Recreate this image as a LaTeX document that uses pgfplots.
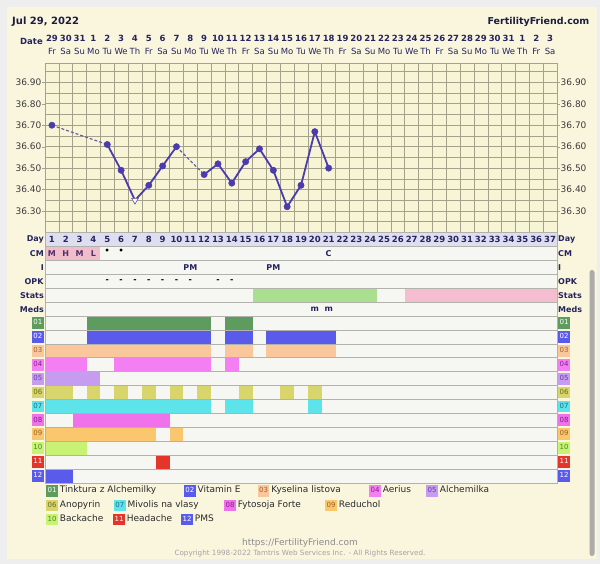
\documentclass[border=0pt]{standalone}
\usepackage{pgfplots}
\pgfplotsset{compat=1.18}
\usepackage{fontspec}
\setmainfont{DejaVu Sans}

\definecolor{outerbg}{HTML}{EEEEEE}
\definecolor{panel}{HTML}{FAF6DE}
\definecolor{tempbg}{HTML}{F8F4D6}
\definecolor{cellbg}{HTML}{F6F6F2}
\definecolor{tgrid}{HTML}{A4A28A}
\definecolor{cgrid}{HTML}{B2B2AC}
\definecolor{navy}{HTML}{24245E}
\definecolor{titlec}{HTML}{1C1C40}
\definecolor{labgray}{HTML}{3A3A3A}
\definecolor{dayrow}{HTML}{DEDEF0}
\definecolor{cmpink}{HTML}{F1BCCB}
\definecolor{cmtext}{HTML}{50306A}
\definecolor{tline}{HTML}{4B3BAE}
\definecolor{tdash}{HTML}{5E5A9E}
\definecolor{statgreen}{HTML}{A9DF8E}
\definecolor{statpink}{HTML}{F4BDD0}
\definecolor{scroll}{HTML}{ABABAB}
\definecolor{legtext}{HTML}{2A2A2A}
\definecolor{foot}{HTML}{8A8A8A}
\definecolor{foottwo}{HTML}{A2A2A2}
% meds / symptoms
\definecolor{c01}{HTML}{5E9B5E}\definecolor{t01}{HTML}{FFFFFF}
\definecolor{c02}{HTML}{5B5BEB}\definecolor{t02}{HTML}{FFFFFF}
\definecolor{c03}{HTML}{F9C79B}\definecolor{t03}{HTML}{A0602A}
\definecolor{c04}{HTML}{F47FF2}\definecolor{t04}{HTML}{8A2090}
\definecolor{c05}{HTML}{C59CF0}\definecolor{t05}{HTML}{6A3AA8}
\definecolor{c06}{HTML}{D7D56B}\definecolor{t06}{HTML}{6B6A20}
\definecolor{c07}{HTML}{5DE3EA}\definecolor{t07}{HTML}{1A6E8A}
\definecolor{c08}{HTML}{EF72EA}\definecolor{t08}{HTML}{8A1A8E}
\definecolor{c09}{HTML}{FAC66E}\definecolor{t09}{HTML}{9A621E}
\definecolor{c10}{HTML}{C8F274}\definecolor{t10}{HTML}{4A8A1E}
\definecolor{c11}{HTML}{E5352B}\definecolor{t11}{HTML}{FFFFFF}
\definecolor{c12}{HTML}{5B5BEB}\definecolor{t12}{HTML}{FFFFFF}

% small numbered colour box
\newcommand\mb[3]{{\setlength\fboxsep{1.4pt}\colorbox{#1}{\rule[-2.8pt]{0pt}{9pt}\textcolor{#2}{\fontsize{7}{7}\selectfont #3}}}}
% filled run of cells: first day, last day, row (0 = top), colour
\newcommand\cellbox[4]{%
  \pgfmathsetmacro\xa{#1-0.5}%
  \pgfmathsetmacro\xb{#2+0.5}%
  \pgfmathsetmacro\ya{-#3}%
  \pgfmathsetmacro\yb{-#3-1}%
  \edef\doit{\noexpand\addplot[fill=#4, draw=none] coordinates {(\xa,\ya) (\xb,\ya) (\xb,\yb) (\xa,\yb)} -- cycle;}%
  \doit}
\newcommand\leg[6]{\node[anchor=west, inner sep=0pt, font=\fontsize{9}{9}\selectfont, text=legtext] at (#1,#2) {\mb{#3}{#4}{#5}\hspace{2pt}#6};}
\newcommand\rowlabels{\mb{c12}{t12}{12},\mb{c11}{t11}{11},\mb{c10}{t10}{10},\mb{c09}{t09}{09},\mb{c08}{t08}{08},\mb{c07}{t07}{07},
    \mb{c06}{t06}{06},\mb{c05}{t05}{05},\mb{c04}{t04}{04},\mb{c03}{t03}{03},\mb{c02}{t02}{02},\mb{c01}{t01}{01},
    \textbf{Meds},\textbf{Stats},\textbf{OPK},\textbf{I},\textbf{CM},\textbf{Day}}

\begin{document}
\begin{tikzpicture}[x=1pt,y=1pt]
\fill[outerbg] (0,0) rectangle (600,564);
\fill[panel] (7,5) rectangle (597,557);
\fill[scroll, rounded corners=2.5pt] (589.5,8) rectangle (594.5,294);
\coordinate (T) at (45,331.5);
\coordinate (B) at (45,81);

\node[anchor=base west, inner sep=0pt, font=\bfseries\fontsize{10}{10}\selectfont, text=titlec] at (12,539.5) {Jul 29, 2022};
\node[anchor=base east, inner sep=0pt, font=\bfseries\fontsize{9.5}{9.5}\selectfont, text=titlec] at (589.5,539.5) {FertilityFriend.com};
\node[anchor=base east, inner sep=0pt, font=\bfseries\fontsize{8.5}{8.5}\selectfont, text=navy] at (43,519) {Date};

% ---- temperature chart
\begin{axis}[
  at={(T)}, anchor=south west, scale only axis,
  width=512pt, height=169.5pt,
  xmin=0.5, xmax=37.5, ymin=36.2, ymax=36.99,
  axis background/.style={fill=tempbg},
  axis line style={tgrid},
  xtick={1,...,37}, xticklabel pos=upper, xtick style={draw=none},
  xticklabels={{\textbf{29}\\Fr},{\textbf{30}\\Sa},{\textbf{31}\\Su},{\textbf{1}\\Mo},{\textbf{2}\\Tu},{\textbf{3}\\We},{\textbf{4}\\Th},
    {\textbf{5}\\Fr},{\textbf{6}\\Sa},{\textbf{7}\\Su},{\textbf{8}\\Mo},{\textbf{9}\\Tu},{\textbf{10}\\We},{\textbf{11}\\Th},
    {\textbf{12}\\Fr},{\textbf{13}\\Sa},{\textbf{14}\\Su},{\textbf{15}\\Mo},{\textbf{16}\\Tu},{\textbf{17}\\We},{\textbf{18}\\Th},
    {\textbf{19}\\Fr},{\textbf{20}\\Sa},{\textbf{21}\\Su},{\textbf{22}\\Mo},{\textbf{23}\\Tu},{\textbf{24}\\We},{\textbf{25}\\Th},
    {\textbf{26}\\Fr},{\textbf{27}\\Sa},{\textbf{28}\\Su},{\textbf{29}\\Mo},{\textbf{30}\\Tu},{\textbf{31}\\We},{\textbf{1}\\Th},
    {\textbf{2}\\Fr},{\textbf{3}\\Sa}},
  xticklabel style={align=center, font=\fontsize{8.5}{12.5}\selectfont, text=navy, inner sep=0pt, anchor=south, yshift=6pt},
  minor xtick={1.5,2.5,...,36.5},
  ytick={36.3,36.4,36.5,36.6,36.7,36.8,36.9},
  yticklabels={36.30,36.40,36.50,36.60,36.70,36.80,36.90},
  minor ytick={36.25,36.35,36.45,36.55,36.65,36.75,36.85,36.95},
  yticklabel style={font=\fontsize{9}{9}\selectfont, text=labgray, inner sep=1pt},
  ytick style={tgrid}, tick align=outside, major tick length=2.5pt, minor tick length=0pt,
  xminorgrids=true, ymajorgrids=true, yminorgrids=true,
  major grid style={tgrid, line width=0.6pt}, minor grid style={tgrid, line width=0.6pt},
]
\addplot[tdash, line width=1.1pt, dash pattern=on 3pt off 2pt] coordinates {(1,36.70) (5,36.61)};
\addplot[tdash, line width=1.1pt, dash pattern=on 3pt off 2pt] coordinates {(10,36.60) (12,36.47)};
\addplot[tline, line width=1.8pt] coordinates {(5,36.61) (6,36.49) (7,36.35) (8,36.42) (9,36.51) (10,36.60)};
\addplot[tline, line width=1.8pt] coordinates {(12,36.47) (13,36.52) (14,36.43) (15,36.53) (16,36.59) (17,36.49) (18,36.32) (19,36.42) (20,36.67) (21,36.50)};
\addplot[only marks, mark=*, mark size=3.2pt, mark options={fill=tline, draw=tline}] coordinates {
  (1,36.70) (5,36.61) (6,36.49) (8,36.42) (9,36.51) (10,36.60) (12,36.47) (13,36.52) (14,36.43)
  (15,36.53) (16,36.59) (17,36.49) (18,36.32) (19,36.42) (20,36.67) (21,36.50)};
\addplot[only marks, mark=triangle*, mark size=3.8pt, mark options={fill=white, draw=tline!60!gray, line width=0.6pt, rotate=180}] coordinates {(7,36.35)};
\end{axis}

% right side temperature labels
\begin{axis}[
  at={(T)}, anchor=south west, scale only axis,
  width=512pt, height=169.5pt,
  xmin=0.5, xmax=37.5, ymin=36.2, ymax=36.99,
  axis line style={draw=none}, xtick=\empty,
  ytick={36.3,36.4,36.5,36.6,36.7,36.8,36.9},
  yticklabels={36.30,36.40,36.50,36.60,36.70,36.80,36.90},
  yticklabel pos=right, ytick pos=right,
  yticklabel style={font=\fontsize{9}{9}\selectfont, text=labgray, inner sep=1pt},
  ytick style={tgrid}, tick align=outside, major tick length=2.5pt,
]
\end{axis}

% ---- table of days, signs and meds (row r spans y = -r-1 .. -r)
\begin{axis}[
  at={(B)}, anchor=south west, scale only axis,
  width=512pt, height=250.5pt,
  xmin=0.5, xmax=37.5, ymin=-18, ymax=0,
  axis on top=true,
  axis background/.style={fill=cellbg},
  axis line style={cgrid},
  xtick=\empty, minor xtick={1.5,2.5,...,36.5},
  ytick={-17.5,-16.5,...,-0.5},
  yticklabels/.expand once=\rowlabels,
  yticklabel style={font=\fontsize{8}{8}\selectfont, text=navy, inner sep=1pt},
  ytick style={draw=none}, major tick length=0pt, minor tick length=0pt,
  minor ytick={-17,-16,...,-1},
  xminorgrids=true, yminorgrids=true,
  minor grid style={cgrid, line width=0.6pt},
  nodes near coords style={anchor=center, inner sep=0pt, font=\bfseries\fontsize{8}{8}\selectfont, text=navy},
]
\cellbox{1}{37}{0}{dayrow}
\cellbox{1}{4}{1}{cmpink}
\cellbox{16}{24}{4}{statgreen}
\cellbox{27}{37}{4}{statpink}
% 01 Tinktura z Alchemilky
\cellbox{4}{12}{6}{c01}\cellbox{14}{15}{6}{c01}
% 02 Vitamin E
\cellbox{4}{12}{7}{c02}\cellbox{14}{15}{7}{c02}\cellbox{17}{21}{7}{c02}
% 03 Kyselina listova
\cellbox{1}{12}{8}{c03}\cellbox{14}{15}{8}{c03}\cellbox{17}{21}{8}{c03}
% 04 Aerius
\cellbox{1}{3}{9}{c04}\cellbox{6}{12}{9}{c04}\cellbox{14}{14}{9}{c04}
% 05 Alchemilka
\cellbox{1}{4}{10}{c05}
% 06 Anopyrin
\cellbox{1}{2}{11}{c06}\cellbox{4}{4}{11}{c06}\cellbox{6}{6}{11}{c06}\cellbox{8}{8}{11}{c06}
\cellbox{10}{10}{11}{c06}\cellbox{12}{12}{11}{c06}\cellbox{15}{15}{11}{c06}\cellbox{18}{18}{11}{c06}
\cellbox{20}{20}{11}{c06}
% 07 Mivolis na vlasy
\cellbox{1}{12}{12}{c07}\cellbox{14}{15}{12}{c07}\cellbox{20}{20}{12}{c07}
% 08 Fytosoja Forte
\cellbox{3}{9}{13}{c08}
% 09 Reduchol
\cellbox{1}{8}{14}{c09}\cellbox{10}{10}{14}{c09}
% 10 Backache, 11 Headache, 12 PMS
\cellbox{1}{3}{15}{c10}
\cellbox{9}{9}{16}{c11}
\cellbox{1}{2}{17}{c12}

% day numbers
\addplot[draw=none, mark=none, nodes near coords, point meta=explicit symbolic,
  nodes near coords style={font=\bfseries\fontsize{8.5}{8.5}\selectfont}] coordinates {
  (1,-0.5)[1] (2,-0.5)[2] (3,-0.5)[3] (4,-0.5)[4] (5,-0.5)[5] (6,-0.5)[6] (7,-0.5)[7] (8,-0.5)[8]
  (9,-0.5)[9] (10,-0.5)[10] (11,-0.5)[11] (12,-0.5)[12] (13,-0.5)[13] (14,-0.5)[14] (15,-0.5)[15]
  (16,-0.5)[16] (17,-0.5)[17] (18,-0.5)[18] (19,-0.5)[19] (20,-0.5)[20] (21,-0.5)[21] (22,-0.5)[22]
  (23,-0.5)[23] (24,-0.5)[24] (25,-0.5)[25] (26,-0.5)[26] (27,-0.5)[27] (28,-0.5)[28] (29,-0.5)[29]
  (30,-0.5)[30] (31,-0.5)[31] (32,-0.5)[32] (33,-0.5)[33] (34,-0.5)[34] (35,-0.5)[35] (36,-0.5)[36]
  (37,-0.5)[37]};
% cervical mucus
\addplot[draw=none, mark=none, nodes near coords, point meta=explicit symbolic,
  nodes near coords style={text=cmtext}] coordinates {(1,-1.5)[M] (2,-1.5)[H] (3,-1.5)[M] (4,-1.5)[L]};
\addplot[draw=none, mark=none, nodes near coords, point meta=explicit symbolic,
  nodes near coords style={text=black}] coordinates {(5,-1.35)[•] (6,-1.35)[•]};
\addplot[draw=none, mark=none, nodes near coords, point meta=explicit symbolic] coordinates {(21,-1.5)[C]};
% intercourse
\addplot[draw=none, mark=none, nodes near coords, point meta=explicit symbolic] coordinates {(11,-2.5)[PM] (17,-2.5)[PM]};
% OPK
\addplot[draw=none, mark=none, nodes near coords, point meta=explicit symbolic,
  nodes near coords style={text=black}] coordinates {
  (5,-3.5)[-] (6,-3.5)[-] (7,-3.5)[-] (8,-3.5)[-] (9,-3.5)[-] (10,-3.5)[-] (11,-3.5)[-] (13,-3.5)[-] (14,-3.5)[-]};
% meds
\addplot[draw=none, mark=none, nodes near coords, point meta=explicit symbolic] coordinates {(20,-5.5)[m] (21,-5.5)[m]};
\end{axis}

% right side row labels
\begin{axis}[
  at={(B)}, anchor=south west, scale only axis,
  width=512pt, height=250.5pt,
  xmin=0.5, xmax=37.5, ymin=-18, ymax=0,
  axis line style={draw=none}, xtick=\empty,
  ytick={-17.5,-16.5,...,-0.5},
  yticklabels/.expand once=\rowlabels,
  yticklabel pos=right,
  yticklabel style={font=\fontsize{8}{8}\selectfont, text=navy, inner sep=1pt},
  ytick style={draw=none}, major tick length=0pt,
]
\end{axis}

% legend
\leg{46}{73}{c01}{t01}{01}{Tinktura z Alchemilky}
\leg{183.7}{73}{c02}{t02}{02}{Vitamin E}
\leg{257.5}{73}{c03}{t03}{03}{Kyselina listova}
\leg{369}{73}{c04}{t04}{04}{Aerius}
\leg{426}{73}{c05}{t05}{05}{Alchemilka}
\leg{46}{58.5}{c06}{t06}{06}{Anopyrin}
\leg{113.7}{58.5}{c07}{t07}{07}{Mivolis na vlasy}
\leg{224}{58.5}{c08}{t08}{08}{Fytosoja Forte}
\leg{325}{58.5}{c09}{t09}{09}{Reduchol}
\leg{46}{44.5}{c10}{t10}{10}{Backache}
\leg{113}{44.5}{c11}{t11}{11}{Headache}
\leg{181}{44.5}{c12}{t12}{12}{PMS}

\node[font=\fontsize{9}{9}\selectfont, text=foot] at (300,21) {https://FertilityFriend.com};
\node[font=\fontsize{7.2}{7.2}\selectfont, text=foottwo] at (300,10.5) {Copyright 1998-2022 Tamtris Web Services Inc. - All Rights Reserved.};

\pgfresetboundingbox
\path[use as bounding box] (0,0) rectangle (600,564);
\end{tikzpicture}
\end{document}
